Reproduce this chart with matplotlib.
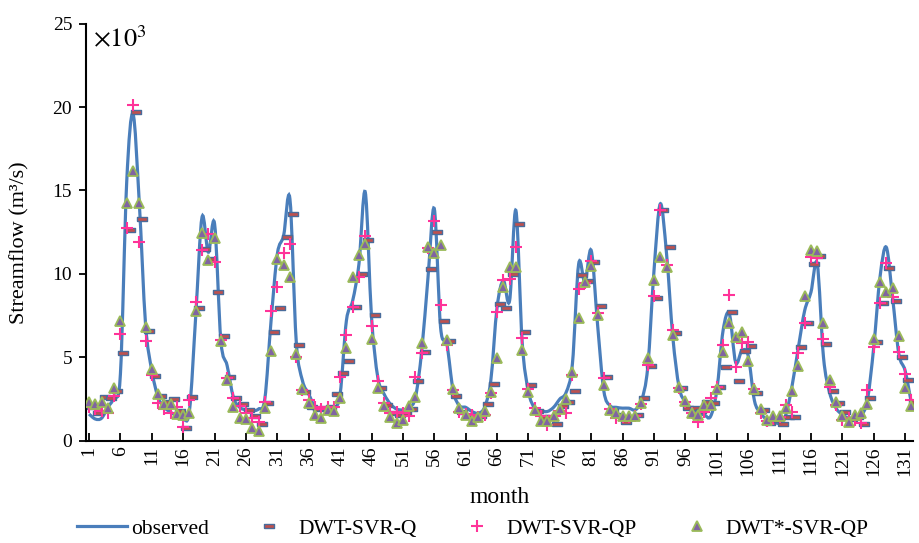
import matplotlib
matplotlib.use('Agg')
import matplotlib.pyplot as plt
import matplotlib.transforms as mtransforms
from matplotlib.path import Path
from matplotlib.patches import PathPatch
from matplotlib.lines import Line2D
import numpy as np

plt.rcParams['font.family'] = ['Liberation Serif', 'DejaVu Serif']
plt.rcParams['mathtext.fontset'] = 'stix'

# 数据 (x10^3 m3/s)
months = np.arange(1, 133)

observed = [
    1.6, 1.3, 1.35, 2.0, 2.6, 4.0, 15.5, 19.6, 14.3, 7.0,
    4.2, 2.6, 2.0, 1.7, 1.5, 1.3, 1.8, 7.5, 13.4, 11.3,
    13.0, 6.0, 4.5, 2.6, 2.0, 1.85, 1.8, 1.9, 2.5, 7.2,
    11.2, 12.3, 14.5, 6.0, 3.6, 2.8, 2.0, 1.85, 1.9, 1.95,
    2.8, 7.2, 8.4, 10.6, 14.9, 7.4, 3.8, 2.8, 2.2, 1.9,
    1.85, 2.0, 2.6, 5.4, 9.8, 13.9, 6.8, 5.8, 3.0, 2.1,
    2.0, 1.75, 1.65, 2.0, 3.6, 8.0, 9.6, 8.4, 13.8, 5.9,
    2.95, 1.95, 1.8, 1.75, 2.0, 2.5, 2.9, 4.6, 10.6, 9.5,
    11.4, 7.0, 3.0, 2.1, 2.0, 1.95, 1.95, 1.85, 2.4, 4.4,
    10.2, 14.2, 11.2, 6.2, 3.2, 2.3, 1.85, 1.65, 1.55, 1.45,
    3.0, 6.6, 7.6, 4.7, 5.4, 5.1, 2.4, 1.65, 1.25, 1.15,
    1.05, 1.55, 3.3, 5.6, 7.8, 8.9, 10.6, 5.0, 2.85, 1.95,
    1.55, 1.35, 1.4, 1.5, 2.45, 5.6, 9.8, 11.6, 8.6, 5.2,
    4.2, 2.25]

svr_q = [
    2.0, 1.64, 2.6, 2.54, 2.98, 5.27, 12.66, 19.71, 13.32, 6.57,
    3.87, 2.68, 2.3, 2.48, 1.8, 0.74, 2.6, 7.93, 11.49, 10.9,
    8.93, 6.29, 3.84, 2.54, 2.2, 1.84, 1.5, 1.0, 2.28, 6.53,
    7.93, 12.22, 13.58, 5.71, 2.9, 2.0, 1.88, 1.94, 2.04, 2.8,
    4.07, 4.79, 8.03, 9.99, 12.06, 7.53, 3.18, 2.14, 1.68, 1.54,
    1.64, 1.9, 3.6, 5.33, 10.29, 12.52, 7.19, 5.99, 2.7, 1.7,
    1.5, 1.4, 1.5, 2.2, 3.38, 8.17, 7.97, 10.0, 13.02, 6.5,
    3.34, 1.8, 1.44, 1.44, 1.0, 2.08, 2.34, 3.0, 9.93, 9.57,
    10.73, 8.07, 3.84, 1.8, 1.54, 1.14, 1.44, 1.54, 2.54, 4.47,
    8.53, 13.86, 11.62, 6.47, 3.14, 1.94, 1.98, 1.78, 2.3, 2.28,
    3.2, 4.4, 7.69, 3.58, 5.39, 5.69, 2.84, 1.84, 1.04, 1.24,
    0.98, 1.44, 1.44, 5.59, 7.07, 10.59, 11.06, 5.77, 3.0, 2.24,
    1.74, 1.28, 1.44, 1.0, 2.58, 5.89, 8.23, 10.37, 8.39, 5.0,
    3.64, 2.3]

svr_qp = [
    2.04, 1.9, 1.8, 1.64, 2.68, 6.39, 12.78, 20.11, 11.92, 5.99,
    3.93, 2.24, 1.88, 1.68, 2.0, 0.84, 2.45, 8.3, 11.43, 12.42,
    10.73, 6.03, 3.74, 2.54, 2.08, 1.64, 1.34, 1.1, 2.34, 7.77,
    9.23, 11.23, 11.79, 5.03, 3.04, 2.44, 2.0, 1.9, 2.04, 2.04,
    3.8, 6.33, 8.03, 9.83, 12.26, 6.87, 3.6, 2.28, 1.64, 1.74,
    1.68, 1.5, 3.8, 5.27, 11.57, 13.17, 8.13, 5.73, 3.04, 1.74,
    1.58, 1.54, 1.44, 1.54, 2.84, 7.69, 9.63, 9.67, 11.63, 6.13,
    3.1, 1.94, 1.48, 0.94, 1.48, 1.8, 1.64, 3.94, 9.07, 9.47,
    10.77, 7.67, 3.78, 1.9, 1.34, 1.44, 1.4, 1.5, 2.2, 4.54,
    8.69, 13.82, 10.53, 6.63, 3.14, 2.34, 1.64, 1.14, 1.74, 2.54,
    3.2, 5.73, 8.73, 4.4, 5.83, 5.93, 3.08, 1.64, 1.17, 1.28,
    1.44, 2.14, 1.74, 5.27, 7.07, 11.02, 10.98, 6.07, 3.24, 2.14,
    1.24, 1.34, 1.24, 1.08, 3.04, 5.59, 8.23, 10.67, 8.63, 5.33,
    4.0, 2.44]

star_svr_qp = [
    2.3, 2.2, 2.3, 1.94, 3.18, 7.19, 14.22, 16.14, 14.26, 6.79,
    4.31, 2.8, 2.2, 2.2, 1.6, 1.54, 1.64, 7.8, 12.46, 10.83,
    12.18, 5.97, 3.64, 2.04, 1.34, 1.28, 0.74, 0.6, 1.94, 5.39,
    10.9, 10.53, 9.83, 5.19, 3.1, 2.24, 1.54, 1.34, 1.84, 1.78,
    2.54, 5.53, 9.83, 11.12, 11.82, 6.07, 3.14, 2.08, 1.4, 1.04,
    1.24, 2.1, 2.6, 5.83, 11.59, 11.27, 11.72, 6.03, 3.08, 1.94,
    1.54, 1.2, 1.44, 1.8, 2.94, 4.94, 9.19, 10.39, 10.43, 5.43,
    2.92, 1.84, 1.2, 1.2, 1.48, 1.88, 2.48, 4.14, 7.33, 9.53,
    10.47, 7.53, 3.32, 1.84, 1.68, 1.5, 1.5, 1.48, 2.26, 4.94,
    9.63, 10.99, 10.43, 6.33, 3.2, 2.4, 1.64, 1.54, 2.14, 2.14,
    3.08, 5.33, 7.07, 6.19, 6.53, 4.79, 3.08, 1.9, 1.24, 1.5,
    1.5, 1.94, 3.0, 4.47, 8.67, 11.42, 11.36, 7.07, 3.64, 2.3,
    1.5, 1.14, 1.54, 1.68, 2.2, 6.07, 9.53, 8.93, 9.17, 6.27,
    3.14, 2.08]

xticks = np.arange(1, 132, 5)
yticks = [0, 5, 10, 15, 20, 25]

# 平滑曲线 (Catmull-Rom -> Bezier)
def smooth_path(x, y):
    pts = np.column_stack([x, y]).astype(float)
    n = len(pts)
    verts = [pts[0]]
    codes = [Path.MOVETO]
    for i in range(n - 1):
        p0 = pts[i - 1] if i > 0 else pts[i]
        p1 = pts[i]
        p2 = pts[i + 1]
        p3 = pts[i + 2] if i + 2 < n else pts[i + 1]
        verts += [p1 + (p2 - p0) / 6, p2 - (p3 - p1) / 6, p2]
        codes += [Path.CURVE4] * 3
    return Path(verts, codes)

fig = plt.figure(figsize=(9.2, 5.43), dpi=100)
ax = fig.add_axes([0.0935, 0.1884, 0.8985, 0.768])

line_color = '#4a7ebb'
patch = PathPatch(smooth_path(months, observed), fill=False,
                  edgecolor=line_color, lw=2.3, zorder=2)
ax.add_patch(patch)

dash_marker = [(-1, -0.4), (1, -0.4), (1, 0.4), (-1, 0.4), (-1, -0.4)]
shift = mtransforms.offset_copy(ax.transData, fig=fig, x=3, y=0, units='dots')
ax.plot(months, svr_q, ls='none', marker=dash_marker, ms=7,
        mfc='#c0504d', mec='#4a6c9b', mew=1.0, transform=shift, zorder=3)
ax.plot(months, svr_qp, ls='none', marker='+', ms=9, mew=1.5,
        color='#ff3399', zorder=4)
ax.plot(months, star_svr_qp, ls='none', marker='^', ms=7,
        mfc='#8064a2', mec='#9bbb59', mew=1.3, zorder=5)

ax.set_xlim(0.52, 132.2)
ax.set_ylim(0, 25)
ax.set_xticks(xticks)
ax.set_xticklabels([str(t) for t in xticks], rotation=90, fontsize=14)
ax.set_yticks(yticks)
ax.set_yticklabels([str(t) for t in yticks], fontsize=14)
ax.tick_params(axis='x', direction='in', length=6, width=1.3, pad=4)
ax.tick_params(axis='y', direction='out', length=5, width=1.3, pad=5)
for s in ['top', 'right']:
    ax.spines[s].set_visible(False)
for s in ['left', 'bottom']:
    ax.spines[s].set_linewidth(1.5)

ax.set_xlabel('month', fontsize=17, labelpad=8)
ax.set_ylabel('Streamflow (m³/s)', fontsize=16)
ax.yaxis.set_label_coords(-0.068, 0.475)
ax.text(0.008, 0.995, r'$\times10^3$', transform=ax.transAxes,
        fontsize=19, va='top', ha='left')

handles = [
    Line2D([], [], color=line_color, lw=2.3),
    Line2D([], [], ls='none', marker=dash_marker, ms=7, mfc='#c0504d',
           mec='#4a6c9b', mew=1.0),
    Line2D([], [], ls='none', marker='+', ms=9, mew=1.5, color='#ff3399'),
    Line2D([], [], ls='none', marker='^', ms=7, mfc='#8064a2',
           mec='#9bbb59', mew=1.3),
]
labels = ['observed', 'DWT-SVR-Q', 'DWT-SVR-QP', 'DWT*-SVR-QP']
fig.legend(handles, labels, loc='center left', bbox_to_anchor=(0.084, 0.026),
           ncol=4, frameon=False, fontsize=15.5, handlelength=2.3,
           handletextpad=0.2, columnspacing=1.65, borderpad=0,
           borderaxespad=0)

fig.savefig('out.png', dpi=100)
